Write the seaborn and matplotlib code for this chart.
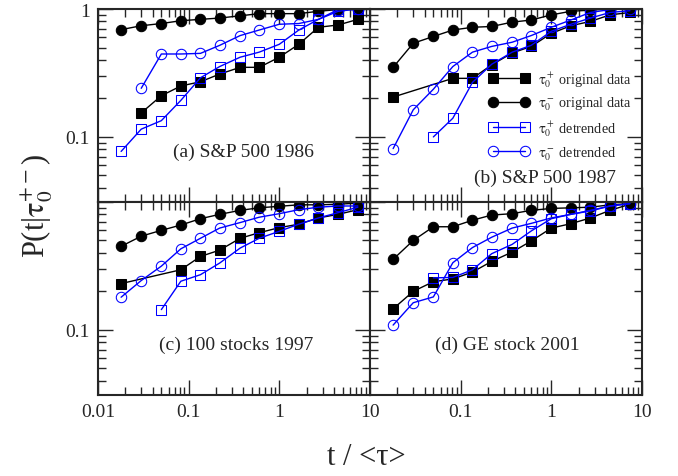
import numpy as np
import pandas as pd
import matplotlib
matplotlib.use("Agg")
import matplotlib.pyplot as plt
import matplotlib.ticker as mticker
import seaborn as sns

nan = np.nan

# scaled waiting time t / <tau> (same grid in all panels)
T_GRID = [0.018, 0.030, 0.050, 0.082, 0.135, 0.22, 0.37, 0.60, 1.0, 1.64, 2.7, 4.45, 7.35]

# (a) S&P 500 1986
PLUS_ORIG_A = [nan, 0.154, 0.21, 0.25, 0.27, 0.31, 0.35, 0.35, 0.42, 0.53, 0.72, 0.75, 0.83]
MINUS_ORIG_A = [0.69, 0.74, 0.77, 0.81, 0.83, 0.85, 0.885, 0.92, 0.92, 0.92, 0.96, 0.99, 0.99]
PLUS_DETR_A = [0.077, 0.115, 0.134, 0.193, 0.29, 0.355, 0.42, 0.46, 0.53, 0.685, 0.83, 0.96, 1.0]
MINUS_DETR_A = [nan, 0.24, 0.445, 0.445, 0.45, 0.52, 0.62, 0.685, 0.76, 0.77, 0.83, 0.99, 1.0]

# (b) S&P 500 1987
PLUS_ORIG_B = [0.205, nan, nan, 0.287, 0.287, 0.366, 0.453, 0.51, 0.645, 0.74, 0.80, 0.90, 0.94]
MINUS_ORIG_B = [0.35, 0.54, 0.61, 0.685, 0.72, 0.73, 0.79, 0.82, 0.90, 0.96, 0.98, 1.0, 0.99]
PLUS_DETR_B = [nan, nan, 0.10, 0.14, 0.267, 0.37, 0.46, 0.52, 0.67, 0.76, 0.85, 0.94, 0.97]
MINUS_DETR_B = [0.081, 0.163, 0.236, 0.355, 0.46, 0.51, 0.55, 0.62, 0.72, 0.82, 0.94, 0.99, 1.0]

# (c) 100 stocks 1997
PLUS_ORIG_C = [0.23, nan, nan, 0.295, 0.375, 0.42, 0.52, 0.575, 0.63, 0.67, 0.75, 0.80, 0.87]
MINUS_ORIG_C = [0.45, 0.54, 0.60, 0.66, 0.74, 0.80, 0.86, 0.90, 0.925, 0.95, 0.95, 0.96, 0.98]
PLUS_DETR_C = [nan, nan, 0.144, 0.24, 0.27, 0.333, 0.436, 0.52, 0.59, 0.67, 0.75, 0.825, 0.91]
MINUS_DETR_C = [0.18, 0.243, 0.315, 0.43, 0.52, 0.625, 0.69, 0.76, 0.81, 0.87, 0.91, 0.93, 0.93]

# (d) GE stock 2001
PLUS_ORIG_D = [0.146, 0.20, 0.238, 0.25, 0.283, 0.343, 0.406, 0.495, 0.625, 0.676, 0.75, 0.86, 0.96]
MINUS_ORIG_D = [0.356, 0.50, 0.64, 0.64, 0.72, 0.79, 0.81, 0.86, 0.89, 0.90, 0.91, 0.95, 0.97]
PLUS_DETR_D = [nan, nan, 0.255, 0.257, 0.295, 0.394, 0.466, 0.593, 0.74, 0.80, 0.85, 0.93, 0.97]
MINUS_DETR_D = [0.109, 0.163, 0.181, 0.335, 0.44, 0.53, 0.625, 0.68, 0.75, 0.80, 0.86, 0.93, 0.97]

PANEL_TITLES = ["(a) S&P 500 1986", "(b) S&P 500 1987", "(c) 100 stocks 1997", "(d) GE stock 2001"]
SERIES_LABELS = [r"$\mathrm{\tau}_0^+$ original data", r"$\mathrm{\tau}_0^-$ original data",
                 r"$\mathrm{\tau}_0^+$ detrended", r"$\mathrm{\tau}_0^-$ detrended"]

PANEL_DATA = [
    [PLUS_ORIG_A, MINUS_ORIG_A, PLUS_DETR_A, MINUS_DETR_A],
    [PLUS_ORIG_B, MINUS_ORIG_B, PLUS_DETR_B, MINUS_DETR_B],
    [PLUS_ORIG_C, MINUS_ORIG_C, PLUS_DETR_C, MINUS_DETR_C],
    [PLUS_ORIG_D, MINUS_ORIG_D, PLUS_DETR_D, MINUS_DETR_D],
]

# marker style for each series
STYLES = [
    dict(marker="s", color="black", markerfacecolor="black", markeredgecolor="black", markersize=6.5),
    dict(marker="o", color="black", markerfacecolor="black", markeredgecolor="black", markersize=7.5),
    dict(marker="s", color="#0000ff", markerfacecolor="none", markeredgecolor="#0000ff", markersize=6.5),
    dict(marker="o", color="#0000ff", markerfacecolor="none", markeredgecolor="#0000ff", markersize=7.5),
]
TITLE_POS = [(0.533, 0.26), (0.643, 0.13), (0.507, 0.264), (0.504, 0.264)]

sns.set_theme(style="ticks")
plt.rcParams["font.family"] = ["Liberation Serif", "DejaVu Serif"]
plt.rcParams["mathtext.fontset"] = "stix"
plt.rcParams["axes.linewidth"] = 1.5

fig, axes = plt.subplots(2, 2, figsize=(6.78, 4.77), dpi=100)
fig.subplots_adjust(left=0.1445, right=0.9469, bottom=0.170, top=0.979, wspace=0, hspace=0)


def fmt_x(hide_first):
    def f(v, pos):
        if hide_first and abs(v - 0.01) < 1e-9:
            return ""
        return f"{v:g}"
    return mticker.FuncFormatter(f)


def fmt_y(hide_one):
    def f(v, pos):
        if hide_one and abs(v - 1) < 1e-9:
            return ""
        return f"{v:g}"
    return mticker.FuncFormatter(f)


for i, ax in enumerate(axes.flat):
    row, col = divmod(i, 2)
    for series, label, st in zip(PANEL_DATA[i], SERIES_LABELS, STYLES):
        df = pd.DataFrame({"t": T_GRID, "p": series}).dropna()
        sns.lineplot(data=df, x="t", y="p", ax=ax, estimator=None, sort=True,
                     linewidth=1.0, label=label, legend=False, **st)
    ax.set_xscale("log")
    ax.set_yscale("log")
    ax.set_xlim(0.01, 10)
    ax.set_ylim(0.031, 1)
    ax.set_xlabel("")
    ax.set_ylabel("")
    ax.xaxis.set_major_locator(mticker.LogLocator(base=10, numticks=10))
    ax.xaxis.set_minor_locator(mticker.LogLocator(base=10, subs=np.arange(2, 10), numticks=20))
    ax.yaxis.set_major_locator(mticker.LogLocator(base=10, numticks=10))
    ax.yaxis.set_minor_locator(mticker.LogLocator(base=10, subs=np.arange(2, 10), numticks=20))
    ax.xaxis.set_minor_formatter(mticker.NullFormatter())
    ax.yaxis.set_minor_formatter(mticker.NullFormatter())
    ax.xaxis.set_major_formatter(fmt_x(col == 1))
    ax.yaxis.set_major_formatter(fmt_y(row == 1))
    ax.tick_params(which="both", direction="in", top=True, right=True, labelsize=14, width=1.0)
    ax.tick_params(which="major", length=11, pad=6)
    ax.tick_params(which="minor", length=5.5)
    if row == 0:
        ax.tick_params(labelbottom=False)
    if col == 1:
        ax.tick_params(labelleft=False)
    ax.text(*TITLE_POS[i], PANEL_TITLES[i], transform=ax.transAxes,
            ha="center", va="center", fontsize=14)

axes[0, 1].legend(loc="upper left", bbox_to_anchor=(0.436, 0.69), frameon=False,
                  numpoints=2, handlelength=2.9, handletextpad=0.6,
                  labelspacing=0.42, borderpad=0.0, borderaxespad=0.0,
                  prop={"family": "Liberation Serif", "size": 10.2})

fig.text(0.540, 0.040, "t / <τ>", ha="center", va="center", fontsize=22)
fig.text(0.055, 0.568, r"P(t|$\mathrm{\tau}_0^{+-}$)", ha="center", va="center",
         rotation=90, fontsize=22)

fig.savefig("out.png", dpi=100)
